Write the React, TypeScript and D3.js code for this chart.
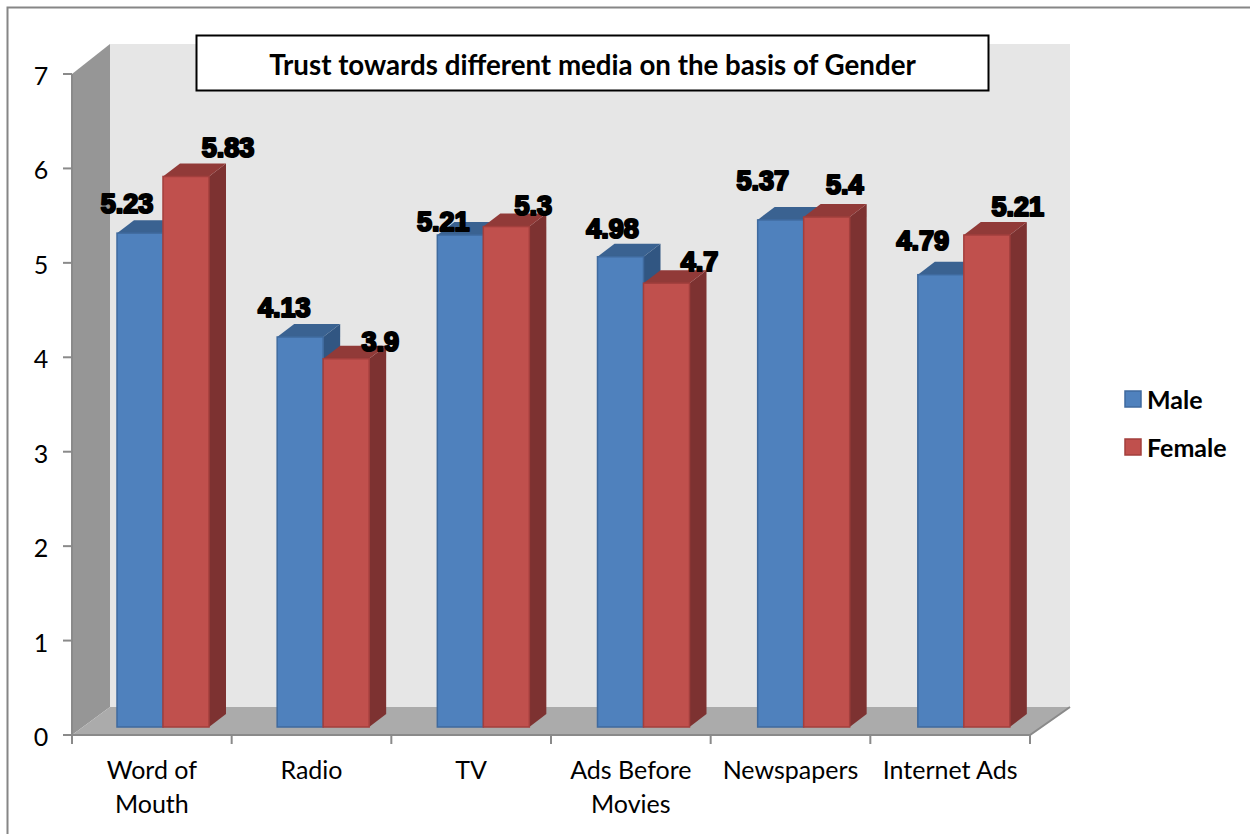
import React from "react";
import * as d3 from "d3";

const categories = ["Word of Mouth", "Radio", "TV", "Ads Before Movies", "Newspapers", "Internet Ads"];
const maleValues = [5.23, 4.13, 5.21, 4.98, 5.37, 4.79];
const femaleValues = [5.83, 3.9, 5.3, 4.7, 5.4, 5.21];
const valueTicks = [0, 1, 2, 3, 4, 5, 6, 7];
const chartTitle = "Trust towards different media on the basis of Gender";

const bodyFont = "Lato, 'Noto Sans', sans-serif";
const labelFont = "'Liberation Sans', Arial, sans-serif";

// Projection of the 3D box and the bars drawn inside it.
const plot = { left: 72, right: 1030, axisY: 735, topY: 74 };
const wall = { dx: 38, dy: -28, top: 44 };
const bar = { width: 46, inset: 45, baseLift: 8, dx: 17, dy: -13 };

// Hand-placed label nudges relative to the top centre of each bar's front face.
const maleNudge: [number, number][] = [[-13, -29], [-16, -29], [-17, -13], [-8, -28], [-18, -39], [-18, -34]];
const femaleNudge: [number, number][] = [[42, -28], [34, -17], [27, -21], [33, -21], [18, -32], [31, -28]];

const palette = {
  male: { face: "#4f81bd", edge: "#3f6a9e", top: "#3a6291", side: "#315682" },
  female: { face: "#c0504d", edge: "#a33f3d", top: "#913a38", side: "#7d3231" },
};

const x = d3.scaleBand<string>().domain(categories).range([plot.left, plot.right]);
// Bars sit on the receding floor, so their spacing is slightly wider than the axis ticks.
const barX = d3.scaleBand<string>().domain(categories).range([plot.left, plot.right + 3]);
const y = d3.scaleLinear().domain([0, 7]).range([plot.axisY, plot.topY]);
const tickXs = d3.range(categories.length + 1).map((i) => plot.left + i * x.step());

function pts(list: [number, number][]) {
  return list.map((p) => p.join(",")).join(" ");
}

function Bar3D({ left, value, colors }: { left: number; value: number; colors: typeof palette.male }) {
  const bottom = y(0) - bar.baseLift;
  const top = y(value) - bar.baseLift;
  const right = left + bar.width;
  return (
    <g>
      <polygon
        points={pts([[right, top], [right + bar.dx, top + bar.dy], [right + bar.dx, bottom + bar.dy], [right, bottom]])}
        fill={colors.side}
      />
      <polygon
        points={pts([[left, top], [left + bar.dx, top + bar.dy], [right + bar.dx, top + bar.dy], [right, top]])}
        fill={colors.top}
      />
      <rect x={left} y={top} width={bar.width} height={bottom - top} fill={colors.face} stroke={colors.edge} strokeWidth={1.5} />
    </g>
  );
}

function DataLabel({ cx, cy, text }: { cx: number; cy: number; text: string }) {
  return (
    <text
      x={cx}
      y={cy}
      textAnchor="middle"
      dominantBaseline="central"
      fontFamily={labelFont}
      fontWeight={700}
      fontSize={27}
      fill="#000"
      stroke="#000"
      strokeWidth={2.2}
      strokeLinejoin="round"
    >
      {text}
    </text>
  );
}

function wrapCategory(name: string): string[] {
  if (name === "Word of Mouth") return ["Word of", "Mouth"];
  if (name === "Ads Before Movies") return ["Ads Before", "Movies"];
  return [name];
}

export default function App() {
  const backLeft = plot.left + wall.dx;
  const backRight = plot.right + wall.dx + 2;
  const floorBack = plot.axisY + wall.dy;

  return (
    <svg
      width={1250}
      height={834}
      viewBox="0 0 1250 834"
      style={{ position: "absolute", left: 0, top: 0, display: "block", background: "#fff" }}
    >
      <path d="M7.5 834 V7.5 H1250" fill="none" stroke="#868686" strokeWidth={2} />

      {/* Back wall, side wall and floor */}
      <rect x={backLeft} y={wall.top} width={backRight - backLeft} height={floorBack - wall.top} fill="#e6e6e6" />
      <polygon
        points={pts([[plot.left, plot.topY], [backLeft, wall.top], [backLeft, floorBack], [plot.left, plot.axisY]])}
        fill="#969696"
      />
      <polygon
        points={pts([[plot.left, plot.axisY], [backLeft, floorBack], [backRight, floorBack], [plot.right, plot.axisY]])}
        fill="#ababab"
      />

      {/* Axes */}
      <g stroke="#8a8a8a" strokeWidth={2} fill="none">
        <path d={`M${plot.left} ${plot.topY} V${plot.axisY} H${plot.right} L${backRight} ${floorBack}`} />
        {valueTicks.map((t) => (
          <line key={t} x1={plot.left - 9} x2={plot.left} y1={y(t)} y2={y(t)} />
        ))}
        {tickXs.map((tx, i) => (
          <line key={i} x1={tx} x2={tx} y1={plot.axisY} y2={plot.axisY + 9} />
        ))}
      </g>

      {valueTicks.map((t) => (
        <text
          key={t}
          x={41}
          y={y(t) + 1}
          textAnchor="middle"
          dominantBaseline="central"
          fontFamily={bodyFont}
          fontSize={25}
          fill="#000"
        >
          {t}
        </text>
      ))}

      {categories.map((c) =>
        wrapCategory(c).map((line, i) => (
          <text
            key={line}
            x={x(c)! + x.bandwidth() / 2}
            y={769 + i * 34}
            textAnchor="middle"
            dominantBaseline="central"
            fontFamily={bodyFont}
            fontSize={25}
            fill="#000"
          >
            {line}
          </text>
        ))
      )}

      {/* Bars */}
      {categories.map((c, i) => {
        const left = barX(c)! + bar.inset;
        return (
          <g key={c}>
            <Bar3D left={left} value={maleValues[i]} colors={palette.male} />
            <Bar3D left={left + bar.width} value={femaleValues[i]} colors={palette.female} />
          </g>
        );
      })}

      {/* Value labels */}
      {categories.map((c, i) => {
        const left = barX(c)! + bar.inset;
        return (
          <g key={c}>
            <DataLabel
              cx={left + bar.width / 2 + maleNudge[i][0]}
              cy={y(maleValues[i]) - bar.baseLift + maleNudge[i][1]}
              text={String(maleValues[i])}
            />
            <DataLabel
              cx={left + bar.width * 1.5 + femaleNudge[i][0]}
              cy={y(femaleValues[i]) - bar.baseLift + femaleNudge[i][1]}
              text={String(femaleValues[i])}
            />
          </g>
        );
      })}

      {/* Title box */}
      <rect x={196.5} y={35.5} width={792} height={55} fill="#fff" stroke="#000" strokeWidth={2} />
      <text
        x={592.5}
        y={64}
        textAnchor="middle"
        dominantBaseline="central"
        fontFamily={bodyFont}
        fontWeight={700}
        fontSize={27.7}
        fill="#000"
      >
        {chartTitle}
      </text>

      {/* Legend */}
      {[
        { name: "Male", colors: palette.male, cy: 399 },
        { name: "Female", colors: palette.female, cy: 447 },
      ].map((e) => (
        <g key={e.name}>
          <rect x={1125} y={e.cy - 8} width={16} height={16} fill={e.colors.face} stroke={e.colors.edge} strokeWidth={1.5} />
          <text
            x={1147}
            y={e.cy}
            dominantBaseline="central"
            fontFamily={bodyFont}
            fontWeight={700}
            fontSize={25}
            fill="#000"
          >
            {e.name}
          </text>
        </g>
      ))}
    </svg>
  );
}
